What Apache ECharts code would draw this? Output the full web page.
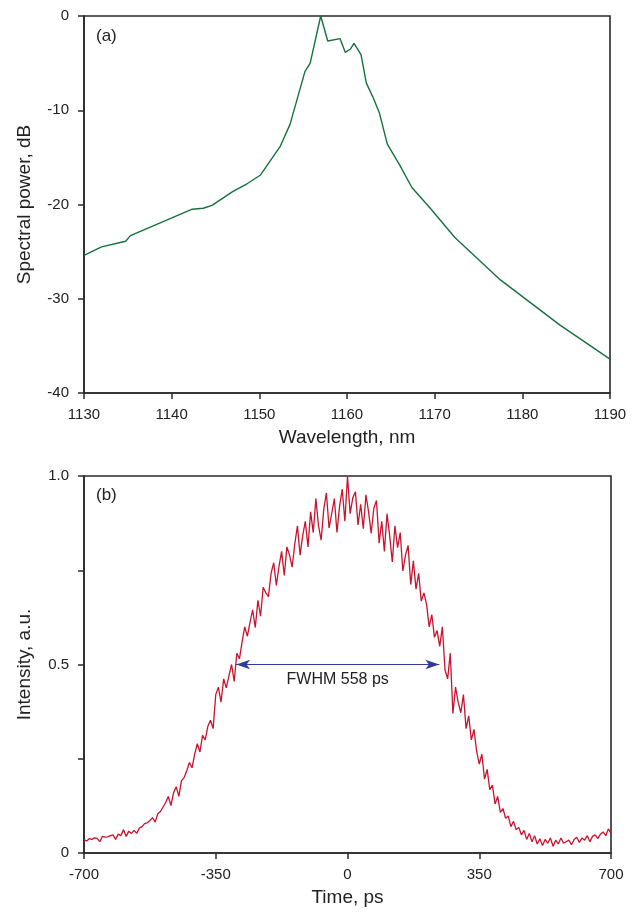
<!DOCTYPE html>
<html>
<head>
<meta charset="utf-8">
<script src="https://cdn.jsdelivr.net/npm/echarts@6/dist/echarts.min.js"></script>
<style>html,body{margin:0;padding:0;background:#fff;}#c{width:638px;height:913px;}</style>
</head>
<body>
<div id="c"></div>
<script>
// ---- Panel (a): spectrum ----
const wavelength = [1130.0,1132.0,1134.75,1135.3,1142.35,1143.6,1144.6,1147.0,1148.6,1150.1,1152.4,1153.5,1155.2,1155.8,1157.0,1157.8,1159.2,1159.8,1160.4,1160.8,1161.6,1162.2,1163.0,1163.7,1164.6,1166.0,1167.4,1169.5,1172.3,1177.5,1184.3,1190.0];
const power = [-25.4,-24.5,-23.9,-23.3,-20.5,-20.4,-20.1,-18.6,-17.8,-16.9,-13.8,-11.5,-5.9,-5.0,0.0,-2.65,-2.4,-3.85,-3.5,-2.9,-4.1,-7.1,-8.7,-10.3,-13.6,-15.8,-18.2,-20.4,-23.5,-28.0,-32.8,-36.4];
const wavelengthTicks = [1130,1140,1150,1160,1170,1180,1190];
const powerTicks = [-40,-30,-20,-10,0];

// ---- Panel (b): pulse (sampled every 7 ps from -700 ps) ----
const timeStart = -700, timeStep = 7;
const intensity = [
0.035,0.032,0.038,0.036,0.040,0.039,0.030,0.044,0.042,0.043,
0.046,0.048,0.036,0.050,0.046,0.062,0.044,0.058,0.052,0.060,
0.052,0.066,0.070,0.078,0.080,0.086,0.094,0.082,0.104,0.110,
0.122,0.134,0.150,0.126,0.160,0.176,0.150,0.192,0.200,0.218,
0.240,0.226,0.262,0.290,0.268,0.312,0.300,0.336,0.352,0.330,
0.420,0.440,0.400,0.462,0.438,0.470,0.500,0.455,0.530,0.515,
0.560,0.600,0.575,0.612,0.645,0.598,0.670,0.628,0.705,0.690,
0.680,0.742,0.770,0.710,0.760,0.800,0.736,0.812,0.790,0.758,
0.820,0.868,0.790,0.842,0.880,0.812,0.905,0.850,0.940,0.868,
0.830,0.912,0.955,0.862,0.900,0.940,0.850,0.920,0.965,0.880,
1.000,0.900,0.942,0.958,0.870,0.925,0.860,0.950,0.905,0.848,
0.915,0.935,0.822,0.880,0.800,0.900,0.842,0.772,0.868,0.810,
0.850,0.748,0.790,0.816,0.712,0.775,0.700,0.742,0.668,0.690,
0.660,0.600,0.632,0.572,0.590,0.548,0.600,0.486,0.462,0.530,
0.370,0.440,0.400,0.372,0.420,0.330,0.364,0.300,0.328,0.270,
0.236,0.262,0.196,0.222,0.168,0.180,0.130,0.150,0.108,0.118,
0.092,0.098,0.070,0.084,0.062,0.068,0.048,0.060,0.036,0.052,
0.030,0.046,0.024,0.038,0.020,0.036,0.026,0.040,0.018,0.034,
0.024,0.040,0.026,0.030,0.034,0.022,0.036,0.042,0.028,0.040,
0.034,0.046,0.030,0.044,0.048,0.038,0.050,0.056,0.046,0.064,
0.052];
const timeTicks = [-700,-350,0,350,700];
const intensityLabels = {0:'0',0.5:'0.5',1:'1.0'};
const fwhmStart = -296, fwhmEnd = 244, fwhmLevel = 0.5;
const fwhmText = 'FWHM 558 ps';

const specData = wavelength.map((w,i)=>[w,power[i]]);
const pulseData = intensity.map((v,i)=>[timeStart + i*timeStep, v]);

const FONT = 'Liberation Sans, Arial, Helvetica, sans-serif';
const TXT = '#222';
const AX = '#2a2a2a';

function xAxisCfg(gridIndex, min, max, interval, name) {
  return {
    type:'value', gridIndex, min, max, interval,
    name, nameLocation:'middle', nameGap:35,
    nameTextStyle:{fontFamily:FONT,fontSize:19,color:TXT},
    axisLine:{show:true,onZero:false,lineStyle:{color:AX,width:1.6}},
    axisTick:{show:true,inside:false,length:6,lineStyle:{color:AX,width:1.5}},
    axisLabel:{fontFamily:FONT,fontSize:15,color:TXT,margin:14,formatter:v=>String(v)},
    splitLine:{show:false}
  };
}
function yAxisCfg(gridIndex, min, max, interval, name, fmt) {
  return {
    type:'value', gridIndex, min, max, interval,
    name, nameLocation:'middle', nameGap:50, nameRotate:90,
    nameTextStyle:{fontFamily:FONT,fontSize:19,color:TXT},
    axisLine:{show:true,onZero:false,lineStyle:{color:AX,width:1.6}},
    axisTick:{show:true,inside:false,length:6,lineStyle:{color:AX,width:1.5}},
    axisLabel:{fontFamily:FONT,fontSize:15,color:TXT,margin:15,formatter:fmt},
    splitLine:{show:false}
  };
}

const chart = echarts.init(document.getElementById('c'), null, {renderer:'canvas'});
chart.setOption({
  backgroundColor:'#fff',
  animation:false,
  grid:[
    {left:84, top:16, width:526, height:377, show:true, borderColor:AX, borderWidth:1.6, containLabel:false},
    {left:84, top:476, width:527, height:377, show:true, borderColor:AX, borderWidth:1.6, containLabel:false}
  ],
  xAxis:[
    xAxisCfg(0, wavelengthTicks[0], wavelengthTicks[wavelengthTicks.length-1], wavelengthTicks[1]-wavelengthTicks[0], 'Wavelength, nm'),
    xAxisCfg(1, timeTicks[0], timeTicks[timeTicks.length-1], timeTicks[1]-timeTicks[0], 'Time, ps')
  ],
  yAxis:[
    yAxisCfg(0, powerTicks[0], powerTicks[powerTicks.length-1], powerTicks[1]-powerTicks[0], 'Spectral power, dB', v=>String(v)),
    yAxisCfg(1, 0, 1, 0.25, 'Intensity, a.u.', v=> (intensityLabels[v] !== undefined ? intensityLabels[v] : ''))
  ],
  title:[
    {text:'(a)', left:96, top:28, padding:0, textStyle:{fontFamily:FONT,fontSize:17,fontWeight:'normal',color:TXT}},
    {text:'(b)', left:96, top:487, padding:0, textStyle:{fontFamily:FONT,fontSize:17,fontWeight:'normal',color:TXT}}
  ],
  series:[
    {type:'line', xAxisIndex:0, yAxisIndex:0, data:specData, showSymbol:false, symbol:'none',
     lineStyle:{color:'#17703f', width:1.4}, z:3},
    {type:'line', xAxisIndex:1, yAxisIndex:1, data:pulseData, showSymbol:false, symbol:'none',
     lineStyle:{color:'#c8142f', width:1.3}, z:3,
     markLine:{
       silent:true, symbol:['arrow','arrow'], symbolSize:[7,14],
       lineStyle:{color:'#2e3d9c', width:1.1, type:'solid'},
       label:{show:true, position:'insideMiddleBottom', distance:7, formatter:()=>fwhmText, fontFamily:FONT, fontSize:16, color:TXT},
       data:[[{coord:[fwhmStart,fwhmLevel]},{coord:[fwhmEnd,fwhmLevel]}]]
     }}
  ]
});
</script>
</body>
</html>
